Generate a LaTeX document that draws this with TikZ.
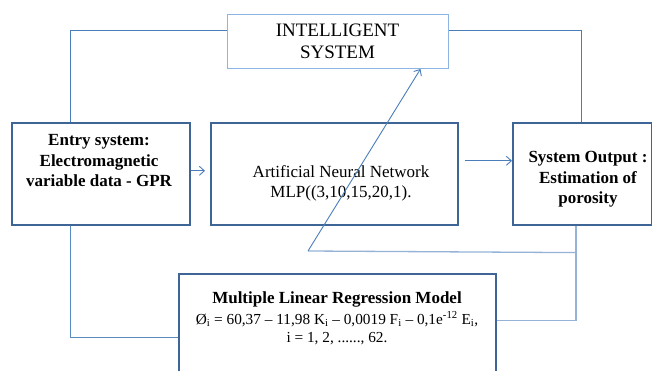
\documentclass[tikz,border=0pt]{standalone}
\usepackage{fontspec}
\setmainfont{Liberation Serif}
\usetikzlibrary{arrows.meta}
\definecolor{boxline}{HTML}{3F6496}
\definecolor{conn}{HTML}{4A7EBB}
\definecolor{light}{HTML}{8EB4E3}
\definecolor{fb}{HTML}{95B3D7}
\tikzset{
  box/.style={draw=boxline, line width=1.6pt, rectangle, inner sep=0pt, anchor=north west},
  ibox/.style={draw=light, line width=1pt, rectangle, inner sep=0pt, anchor=north west},
  txt/.style={align=center, inner sep=0pt, font=\fontsize{17}{20.5}\selectfont},
  btxt/.style={txt, font=\fontsize{17}{20.5}\selectfont\bfseries},
  link/.style={draw=conn, line width=0.9pt},
  fbline/.style={draw=fb, line width=1.3pt},
  arr/.style={-{Straight Barb[length=5pt,width=9pt,line width=0.9pt]}}
}
\begin{document}
\begin{tikzpicture}[x=1pt,y=-1pt]
\path[use as bounding box, clip] (0,0) rectangle (652,371);
\fill[white] (0,0) rectangle (652,371);
% boxes
\node[ibox, minimum width=221pt, minimum height=54pt] (intel) at (227,14) {};
\node[box, minimum width=178pt, minimum height=102pt] (entry) at (11,122) {};
\node[box, minimum width=247pt, minimum height=102pt] (ann) at (210,122) {};
\node[box, minimum width=139pt, minimum height=102pt] (out) at (512,122) {};
\node[box, minimum width=317pt, minimum height=107pt] (mlr) at (178,273) {};
% texts (anchor = baseline of last line)
\node[txt, font=\fontsize{19}{22}\selectfont, anchor=base] (intelt) at (337.5,59) {INTELLIGENT\\SYSTEM};
\node[btxt, anchor=base] (entryt) at (99,187) {Entry system:\\Electromagnetic\\variable data - GPR};
\node[txt, anchor=base] (annt) at (341,198) {Artificial Neural Network\\MLP((3,10,15,20,1).};
\node[btxt, anchor=base] (outt) at (588,204) {System Output :\\Estimation of\\porosity};
\node[btxt, anchor=base] (mlrt) at (337,303) {Multiple Linear Regression Model};
\node[txt, font=\fontsize{15.3}{18}\selectfont, anchor=base] (mlreq) at (337,342) {%
Ø\textsubscript{i} = 60,37 – 11,98 K\textsubscript{i} – 0,0019 F\textsubscript{i} – 0,1e\textsuperscript{-12} E\textsubscript{i},\\%
i = 1, 2, ......, 62.};
% coordinates
\coordinate (fbj) at ([xshift=64pt,yshift=-27pt]out.south west);
\coordinate (bend) at (308,251);
% top connectors
\draw[link] ([yshift=11pt]intel.west) -| ([xshift=59pt]entry.north west);
\draw[link] ([yshift=11pt]intel.east) -| ([xshift=69pt]out.north west);
% horizontal arrows
\draw[link, arr, shorten >=5pt] ([yshift=3pt]entry.east) -- ([yshift=3pt]ann.west);
\draw[link, arr, shorten <=6pt] ([yshift=13pt]ann.east) -- ([yshift=13pt]out.west);
% feedback
\draw[fbline] ([xshift=64pt]out.south west) |- ([yshift=6.5pt]mlr.east);
\draw[fbline] (fbj) -- (bend);
\draw[link, arr] (bend) -- ([xshift=82.5pt]intel.south);
\draw[link, draw=conn!80!fb] ([xshift=59pt]entry.south west) |- ([yshift=-10.5pt]mlr.west);
\end{tikzpicture}
\end{document}
